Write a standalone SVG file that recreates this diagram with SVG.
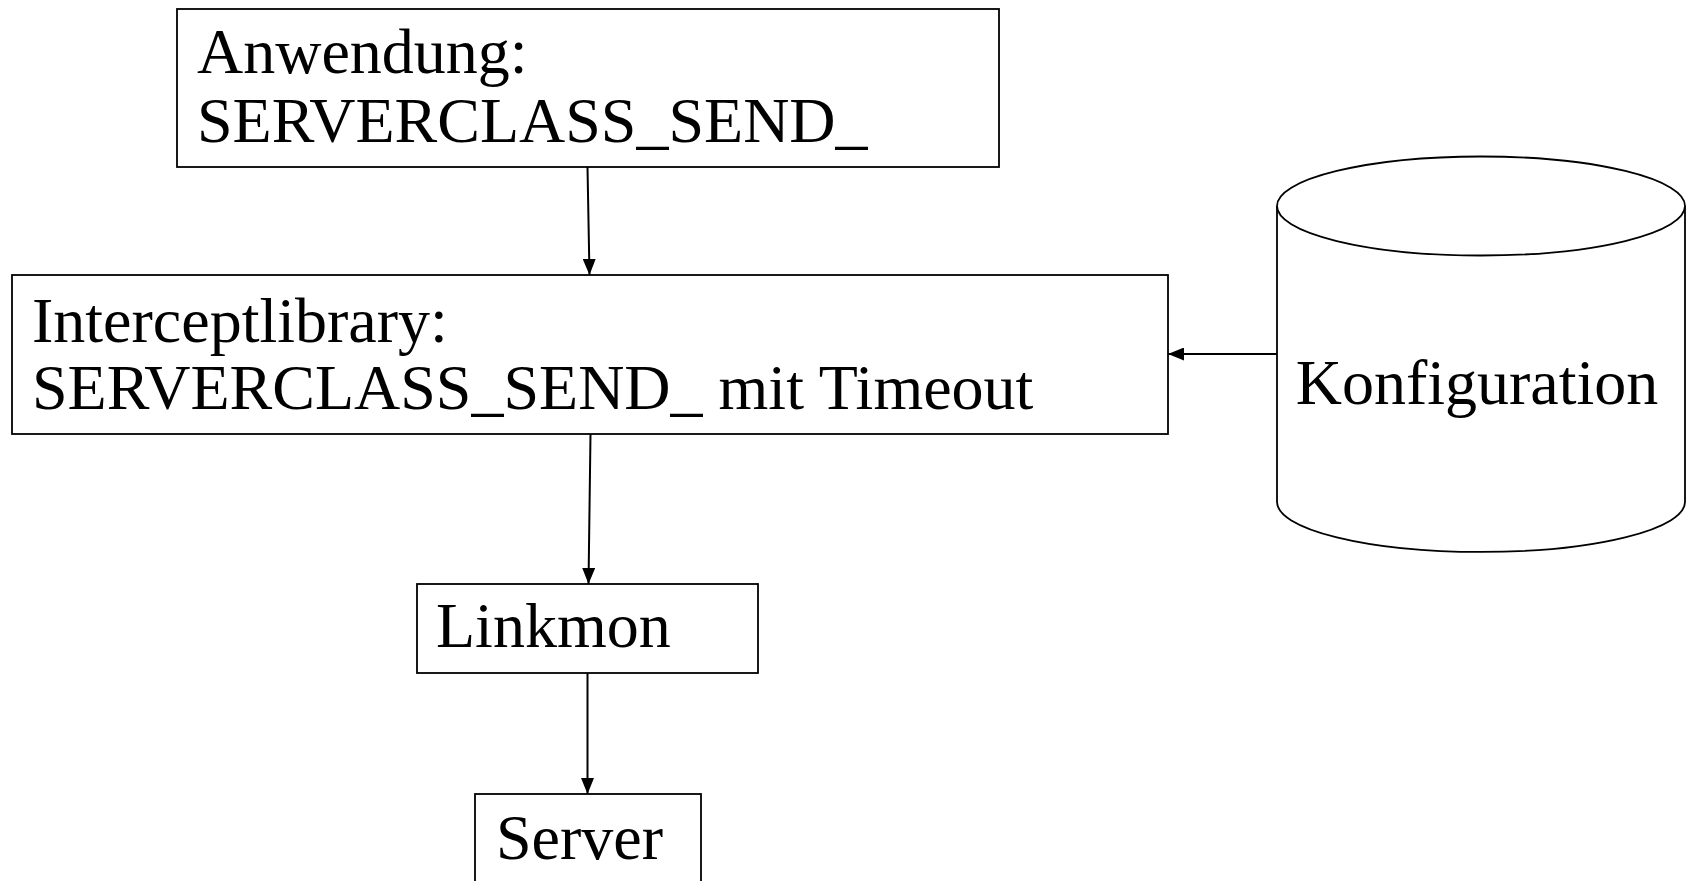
<svg xmlns="http://www.w3.org/2000/svg" width="1690" height="881" viewBox="0 0 1690 881">
<style>
.box{fill:#fff;stroke:#000;stroke-width:1.8}
.t{font-family:"Liberation Serif","Times New Roman",serif;font-size:64px;fill:#000}
.c{stroke:#000;stroke-width:2;fill:none}
</style>
<defs>
<marker id="ah" markerUnits="userSpaceOnUse" markerWidth="16" markerHeight="13" refX="16" refY="6.5" orient="auto">
<path d="M0,0 L16,6.5 L0,13 Z" fill="#000"/>
</marker>
</defs>
<rect width="1690" height="881" fill="#fff"/>
<g id="anwendung">
<rect class="box" x="177" y="9" width="822" height="158"/>
<text class="t" x="197" y="73">Anwendung:</text>
<text class="t" x="197" y="142">SERVERCLASS_SEND_</text>
</g>
<g id="interceptlibrary">
<rect class="box" x="12" y="275" width="1156" height="159"/>
<text class="t" x="32" y="342">Interceptlibrary:</text>
<text class="t" x="32" y="409">SERVERCLASS_SEND_ mit Timeout</text>
</g>
<g id="konfiguration">
<path class="box" d="M1277,206 L1277,502 A204,50 0 0 0 1685,502 L1685,206"/>
<ellipse class="box" cx="1481" cy="206" rx="204" ry="49.5"/>
<text class="t" x="1477" y="404" text-anchor="middle">Konfiguration</text>
</g>
<g id="linkmon">
<rect class="box" x="417" y="584" width="341" height="89"/>
<text class="t" x="436" y="647">Linkmon</text>
</g>
<g id="server">
<rect class="box" x="475" y="794" width="226" height="100"/>
<text class="t" x="496" y="859">Server</text>
</g>
<g id="connectors">
<line class="c" x1="587.5" y1="167" x2="589.5" y2="275" marker-end="url(#ah)"/>
<line class="c" x1="590.5" y1="434" x2="588.5" y2="584" marker-end="url(#ah)"/>
<line class="c" x1="587.5" y1="673" x2="587.5" y2="794" marker-end="url(#ah)"/>
<line class="c" x1="1277" y1="354" x2="1168" y2="354" marker-end="url(#ah)"/>
</g>
</svg>
